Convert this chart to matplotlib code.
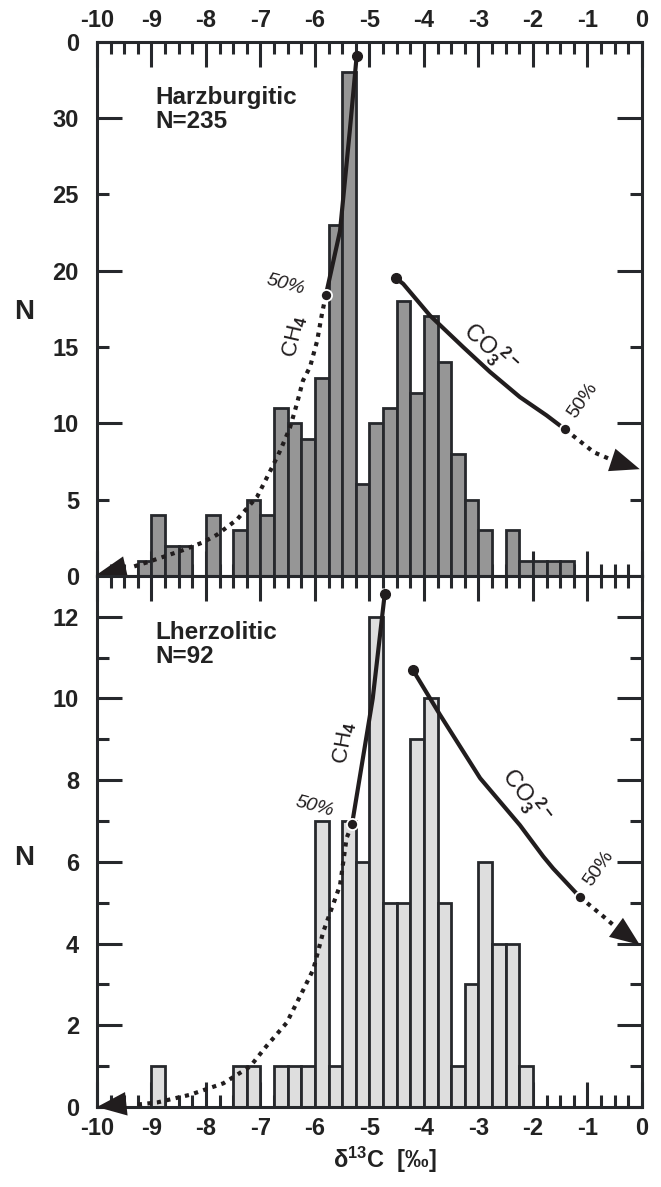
import numpy as np
import matplotlib.pyplot as plt
from matplotlib.ticker import FixedLocator, FixedFormatter, MultipleLocator, NullFormatter

plt.rcParams['font.family'] = ['Liberation Sans', 'DejaVu Sans']
plt.rcParams['font.weight'] = 'bold'
plt.rcParams['mathtext.fontset'] = 'custom'
plt.rcParams['mathtext.rm'] = 'Liberation Sans'
plt.rcParams['mathtext.it'] = 'Liberation Sans:italic'
plt.rcParams['mathtext.bf'] = 'Liberation Sans:bold'

# 0.25 per mil bins from -10 to 0
bin_left = np.arange(-10, 0, 0.25)

harz_counts = [0, 0, 0, 1, 4, 2, 2, 0, 4, 0,
               3, 5, 4, 11, 10, 9, 13, 23, 33, 6,
               10, 11, 18, 12, 17, 14, 8, 5, 3, 0,
               3, 1, 1, 1, 1, 0, 0, 0, 0, 0]
lherz_counts = [0, 0, 0, 0, 1, 0, 0, 0, 0, 0,
                1, 1, 0, 1, 1, 1, 7, 1, 7, 6,
                12, 5, 5, 9, 10, 5, 1, 3, 6, 4,
                4, 1, 0, 0, 0, 0, 0, 0, 0, 0]

# fractionation trends
harz_ch4_solid_x = [-5.80, -5.54, -5.45, -5.36, -5.235]
harz_ch4_solid_y = [18.4, 22.6, 25.9, 29.2, 34.05]
harz_ch4_dot_x = [-5.80, -5.87, -5.96, -6.09, -6.22, -6.33, -6.46, -6.64, -6.79,
                  -7.06, -7.43, -7.80, -8.06, -8.42, -8.79, -9.08, -9.39]
harz_ch4_dot_y = [18.4, 17.2, 15.4, 13.7, 12.8, 11.3, 9.7, 8.2, 7.1,
                  5.2, 3.7, 2.7, 2.2, 1.7, 1.25, 0.9, 0.55]
harz_co3_solid_x = [-4.51, -4.38, -3.89, -3.28, -2.79, -2.24, -1.75, -1.41]
harz_co3_solid_y = [19.5, 19.13, 17.06, 14.99, 13.37, 11.72, 10.52, 9.6]
harz_co3_dot_x = [-1.41, -0.88, -0.55]
harz_co3_dot_y = [9.6, 8.1, 7.6]

lherz_ch4_solid_x = [-5.32, -4.94, -4.72]
lherz_ch4_solid_y = [6.92, 10.0, 12.56]
lherz_ch4_dot_x = [-5.32, -5.42, -5.54, -5.85, -6.03, -6.21, -6.52, -6.89,
                   -7.19, -7.68, -8.29, -8.90, -9.33]
lherz_ch4_dot_y = [6.92, 6.58, 5.43, 4.28, 3.37, 2.88, 2.06, 1.49,
                   0.99, 0.58, 0.30, 0.11, 0.05]
lherz_co3_solid_x = [-4.20, -3.71, -2.97, -2.24, -1.81, -1.63, -1.14]
lherz_co3_solid_y = [10.69, 9.61, 8.05, 6.90, 6.13, 5.84, 5.14]
lherz_co3_dot_x = [-1.14, -0.65, -0.48]
lherz_co3_dot_y = [5.14, 4.6, 4.4]

ink = '#211d1e'
edge = '#26282c'

fig = plt.figure(figsize=(6.61, 11.87), dpi=100)
ax1 = fig.add_axes([0.1467, 0.5147, 0.8245, 0.4503])
ax2 = fig.add_axes([0.1467, 0.0674, 0.8245, 0.4474])


def style_axis(ax, ymax, ymaj, ymaj_lab, ymin, ymin_lab, top_labels):
    ax.set_xlim(-10, 0)
    ax.set_ylim(0, ymax)
    ax.set_xticks(np.arange(-10, 0.5, 1))
    ax.set_xticklabels([str(v) for v in range(-10, 1)])
    ax.xaxis.set_minor_locator(MultipleLocator(0.25))
    ax.xaxis.set_minor_formatter(NullFormatter())
    ax.yaxis.set_major_locator(FixedLocator(ymaj))
    ax.yaxis.set_major_formatter(FixedFormatter(ymaj_lab))
    ax.yaxis.set_minor_locator(FixedLocator(ymin))
    ax.yaxis.set_minor_formatter(FixedFormatter(ymin_lab))
    for sp in ax.spines.values():
        sp.set_linewidth(2.2)
        sp.set_color(edge)
    ax.tick_params(which='both', direction='in', top=True, right=True,
                   width=2.2, color=edge, labelsize=17, labelcolor='#222222')
    ax.tick_params(which='major', length=18)
    ax.tick_params(which='minor', length=8.5)
    ax.tick_params(axis='y', which='both', pad=13)
    ax.tick_params(axis='x', which='both', pad=7,
                   labeltop=top_labels, labelbottom=not top_labels)


def arrow_head(ax, tail, tip):
    ax.annotate('', xy=tip, xytext=tail, annotation_clip=False,
                arrowprops=dict(arrowstyle='-|>,head_length=0.85,head_width=0.34',
                                mutation_scale=25, lw=0, color=ink,
                                shrinkA=0, shrinkB=0, clip_on=False))


def trend(ax, sx, sy, dx, dy, tail, tip, dot_first):
    ax.plot(sx, sy, color=ink, lw=3, zorder=4, clip_on=False)
    ax.plot(dx, dy, color=ink, lw=3, ls=(0, (1, 1.3)), zorder=4, clip_on=False)
    end_i, half_i = (0, -1) if dot_first else (-1, 0)
    ax.plot(sx[end_i], sy[end_i], 'o', color=ink, ms=7, zorder=5, clip_on=False)
    ax.plot(sx[half_i], sy[half_i], 'o', color=ink, ms=8, mec='white', mew=1.3,
            zorder=5, clip_on=False)
    arrow_head(ax, tail, tip)


note = dict(color=ink, fontweight='normal', ha='center', va='center')

# --- Harzburgitic ---
ax1.bar(bin_left, harz_counts, width=0.25, align='edge', color='#969696',
        edgecolor=edge, linewidth=2.0, zorder=2)
style_axis(ax1, 35, [0, 10, 20, 30, 35], ['0', '10', '20', '30', '0'],
           [5, 15, 25], ['5', '15', '25'], True)
trend(ax1, harz_ch4_solid_x, harz_ch4_solid_y, harz_ch4_dot_x, harz_ch4_dot_y,
      (-9.45, 0.55), (-10, 0.1), False)
trend(ax1, harz_co3_solid_x, harz_co3_solid_y, harz_co3_dot_x, harz_co3_dot_y,
      (-0.55, 7.6), (-0.04, 7.0), True)
ax1.text(-8.92, 32.1, 'Harzburgitic\nN=235', fontsize=17.5, ha='left', va='top',
         color='#222222', linespacing=1.05)
ax1.text(-6.53, 19.1, '50%', fontsize=14, rotation=-15, style='italic', **note)
ax1.text(-6.37, 15.7, 'CH$_4$', fontsize=16, rotation=77, **note)
ax1.text(-2.78, 14.9, r'CO$_3^{\ 2-}$', fontsize=17, rotation=-42, **note)
ax1.text(-1.08, 11.5, '50%', fontsize=14, rotation=55, **note)

# --- Lherzolitic ---
ax2.bar(bin_left, lherz_counts, width=0.25, align='edge', color='#dedede',
        edgecolor=edge, linewidth=2.0, zorder=2)
style_axis(ax2, 13, [0, 2, 4, 6, 8, 10, 12], ['0', '2', '4', '6', '8', '10', '12'],
           [1, 3, 5, 7, 9, 11], [''] * 6, False)
trend(ax2, lherz_ch4_solid_x, lherz_ch4_solid_y, lherz_ch4_dot_x, lherz_ch4_dot_y,
      (-9.45, 0.08), (-10, 0.0), False)
trend(ax2, lherz_co3_solid_x, lherz_co3_solid_y, lherz_co3_dot_x, lherz_co3_dot_y,
      (-0.48, 4.4), (-0.04, 3.97), True)
ax2.text(-8.92, 11.9, 'Lherzolitic\nN=92', fontsize=17.5, ha='left', va='top',
         color='#222222', linespacing=1.05)
ax2.text(-6.0, 7.36, '50%', fontsize=14, rotation=-15, style='italic', **note)
ax2.text(-5.45, 8.9, 'CH$_4$', fontsize=16, rotation=80, **note)
ax2.text(-2.12, 7.6, r'CO$_3^{\ 2-}$', fontsize=17, rotation=-52, **note)
ax2.text(-0.8, 5.84, '50%', fontsize=14, rotation=55, **note)

fig.text(24 / 661, 1 - 312 / 1187, 'N', fontsize=20, ha='center', va='center',
         color='#222222')
fig.text(24 / 661, 1 - 858 / 1187, 'N', fontsize=20, ha='center', va='center',
         color='#222222')
fig.text(385 / 661, 1 - 1160 / 1187, r'$\mathbf{\delta^{13}C}$  [‰]', fontsize=17,
         ha='center', va='center', color='#222222')

fig.savefig('out.png', dpi=100)
